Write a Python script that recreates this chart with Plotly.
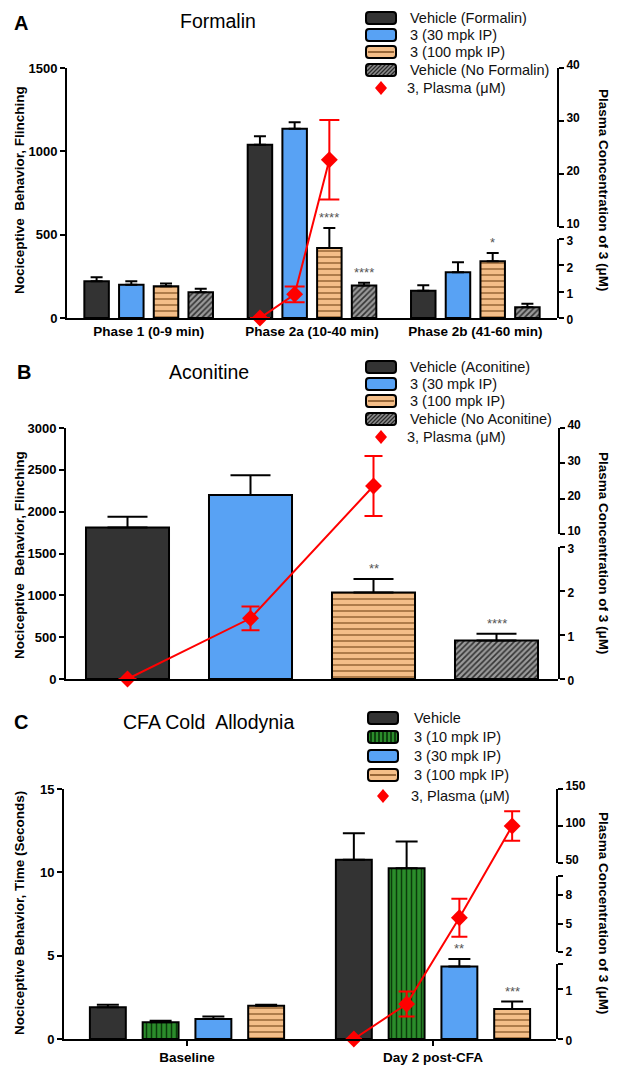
import plotly.graph_objects as go

# ------------------------------------------------------------------ data
# Panel A - Formalin
A_groups = ["Phase 1 (0-9 min)", "Phase 2a (10-40 min)", "Phase 2b (41-60 min)"]
A_names = ["Vehicle (Formalin)", "3 (30 mpk IP)", "3 (100 mpk IP)", "Vehicle (No Formalin)"]
A_vehicle = [220, 1040, 163]
A_vehicle_err = [25, 50, 33]
A_30 = [200, 1135, 275]
A_30_err = [20, 40, 60]
A_100 = [190, 420, 340]
A_100_err = [17, 120, 50]
A_nof = [155, 195, 65]
A_nof_err = [20, 17, 20]
A_sig_100 = ["", "****", "*"]
A_sig_nof = ["", "****", ""]
A_plasma = [0, 0.9, 22.7]          # at vehicle, 30, 100 mpk of Phase 2a
A_plasma_err = [0, 0.3, 7.5]

# Panel B - Aconitine
B_names = ["Vehicle (Aconitine)", "3 (30 mpk IP)", "3 (100 mpk IP)", "Vehicle (No Aconitine)"]
B_values = [1810, 2200, 1035, 460]
B_err = [130, 235, 160, 80]
B_sig = ["", "", "**", "****"]
B_plasma = [0, 1.38, 23.6]
B_plasma_err = [0, 0.27, 8.5]

# Panel C - CFA cold allodynia
C_groups = ["Baseline", "Day 2 post-CFA"]
C_names = ["Vehicle", "3 (10 mpk IP)", "3 (30 mpk IP)", "3 (100 mpk IP)"]
C_vehicle = [1.9, 10.75]
C_vehicle_err = [0.15, 1.6]
C_10 = [1.0, 10.25]
C_10_err = [0.1, 1.6]
C_30 = [1.2, 4.35]
C_30_err = [0.15, 0.45]
C_100 = [2.0, 1.8]
C_100_err = [0.05, 0.45]
C_sig_30 = ["", "**"]
C_sig_100 = ["", "***"]
C_plasma = [0, 0.7, 5.6, 100]
C_plasma_err = [0, 0.25, 2.0, 20]

PLASMA_NAME = "3, Plasma (\u03bcM)"

# ------------------------------------------------------------------ layout helpers
W, H = 619, 1072
FONT = "Liberation Sans"
RED = "#FF0000"


def X(p):
    return p / W


def Y(p):
    return 1 - p / H


STY = {
    "black": dict(color="#333333"),
    "blue": dict(color="#58A2F4"),
    "orange": dict(color="#F4BE88",
                   pattern=dict(shape="-", fgcolor="#8a5a2a", bgcolor="#F4BE88",
                                size=6, solidity=0.22, fillmode="replace")),
    "gray": dict(color="#9a9a9a",
                 pattern=dict(shape="/", fgcolor="#333333", bgcolor="#9a9a9a",
                              size=4, solidity=0.4, fillmode="replace")),
    "green": dict(color="#2b8c2b",
                  pattern=dict(shape="|", fgcolor="#0b3b0b", bgcolor="#2b8c2b",
                               size=5, solidity=0.3, fillmode="replace")),
}
SWATCH_FILL = {"black": "#333333", "blue": "#58A2F4", "orange": "#F4BE88",
               "gray": "#8c8c8c", "green": "#2b8c2b"}

fig = go.Figure()
layout = {}
shapes = []
annotations = []

TICKFONT = dict(family=FONT, size=13, color="black", weight="bold")
RTICKFONT = dict(family=FONT, size=12, color="black", weight="bold")
XTICKFONT = dict(family=FONT, size=13.5, color="black", weight="bold")


def seg_T(segs):
    """broken right axis: value -> paper y"""
    def T(v):
        for v0, v1, p0, p1 in segs:
            if v0 <= v <= v1:
                return Y(p0 + (v - v0) / (v1 - v0) * (p1 - p0))
        raise ValueError(v)
    return T


def make_panel(xname, ynames, xl, xr, ybot, ytop, xrange, yrange, ytick,
               segs, seg_ticks, xtickvals, xticktext, xticks):
    yl, ysegs, yh = ynames
    xk = "xaxis" if xname == "x" else "xaxis" + xname[1:]
    layout[xk] = dict(domain=[X(xl), X(xr)], anchor=yl, range=xrange,
                      showline=True, linewidth=2, linecolor="black",
                      showgrid=False, zeroline=False, automargin=False,
                      tickvals=xtickvals, ticktext=xticktext,
                      showticklabels=xticktext is not None,
                      ticks=xticks, ticklen=5, tickwidth=2, tickcolor="black",
                      tickfont=XTICKFONT, fixedrange=True)
    ylk = "yaxis" if yl == "y" else "yaxis" + yl[1:]
    layout[ylk] = dict(domain=[Y(ybot), Y(ytop)], anchor=xname, range=yrange,
                       showline=True, linewidth=2, linecolor="black",
                       showgrid=False, zeroline=False, automargin=False,
                       tickvals=ytick, ticks="outside", ticklen=5, tickwidth=2,
                       tickcolor="black", tickfont=TICKFONT, fixedrange=True)
    nseg = len(ysegs)
    for i, (ya, (v0, v1, p0, p1), (tv, tt)) in enumerate(zip(ysegs, segs, seg_ticks)):
        k = "yaxis" + ya[1:]
        shift = -3 if i == nseg - 1 else (2 if i == 0 else 0)
        layout[k] = dict(domain=[Y(p0), Y(p1)], anchor=xname, side="right",
                         range=[v0, v1], showline=True, linewidth=2, linecolor="black",
                         showgrid=False, zeroline=False, automargin=False,
                         tickvals=tv, ticktext=tt, ticks="outside", ticklen=5,
                         tickwidth=2, tickcolor="black", tickfont=RTICKFONT,
                         ticklabelshift=shift, fixedrange=True)
        fig.add_trace(go.Scatter(x=[xrange[0]], y=[v0], xaxis=xname, yaxis=ya,
                                 mode="markers", marker=dict(opacity=0),
                                 showlegend=False, hoverinfo="skip"))
    hk = "yaxis" + yh[1:]
    layout[hk] = dict(overlaying=yl, anchor=xname, range=[Y(ybot), Y(ytop)],
                      visible=False, fixedrange=True)


def add_bars(xname, yname, xs, vals, errs, style, width, capw):
    st = STY[style]
    marker = dict(color=st["color"], line=dict(color="black", width=2))
    if "pattern" in st:
        marker["pattern"] = st["pattern"]
    fig.add_trace(go.Bar(x=xs, y=vals, width=width, xaxis=xname, yaxis=yname,
                         marker=marker, showlegend=False,
                         error_y=dict(type="data", symmetric=False, array=errs,
                                      arrayminus=[0] * len(errs), color="black",
                                      thickness=2, width=capw)))


def add_sig(xref, yref, xs, vals, errs, labels):
    for x, v, e, t in zip(xs, vals, errs, labels):
        if t:
            annotations.append(dict(x=x, y=v + e, xref=xref, yref=yref, text=t,
                                    showarrow=False, yanchor="bottom", yshift=1,
                                    font=dict(family=FONT, size=13, color="#555555")))


def add_plasma(xname, yname, xs, vals, errs, T, capw):
    ys = [T(v) for v in vals]
    up = [T(v + e) - T(v) for v, e in zip(vals, errs)]
    dn = [T(v) - T(v - e) for v, e in zip(vals, errs)]
    fig.add_trace(go.Scatter(x=xs, y=ys, xaxis=xname, yaxis=yname, mode="lines+markers",
                             line=dict(color=RED, width=2),
                             marker=dict(symbol="diamond", size=13, color=RED),
                             error_y=dict(type="data", symmetric=False, array=up,
                                          arrayminus=dn, color=RED, thickness=2,
                                          width=capw),
                             showlegend=False, cliponaxis=False))


def text(px, py, s, size, bold=False, angle=0, xanchor="center", color="black"):
    annotations.append(dict(x=X(px), y=Y(py), xref="paper", yref="paper", text=s,
                            showarrow=False, xanchor=xanchor, yanchor="middle",
                            textangle=angle,
                            font=dict(family=FONT, size=size, color=color,
                                      weight="bold" if bold else "normal")))


def rrect_path(cx, cy, w, h, r):
    x0, x1, y0, y1 = cx - w / 2, cx + w / 2, cy - h / 2, cy + h / 2
    return (f"M{X(x0 + r)},{Y(y0)} L{X(x1 - r)},{Y(y0)} Q{X(x1)},{Y(y0)} {X(x1)},{Y(y0 + r)} "
            f"L{X(x1)},{Y(y1 - r)} Q{X(x1)},{Y(y1)} {X(x1 - r)},{Y(y1)} "
            f"L{X(x0 + r)},{Y(y1)} Q{X(x0)},{Y(y1)} {X(x0)},{Y(y1 - r)} "
            f"L{X(x0)},{Y(y0 + r)} Q{X(x0)},{Y(y0)} {X(x0 + r)},{Y(y0)} Z")


def line(xa, ya, xb, yb, color, w):
    shapes.append(dict(type="line", xref="paper", yref="paper", x0=X(xa), y0=Y(ya),
                       x1=X(xb), y1=Y(yb), line=dict(color=color, width=w)))


def swatch(cx, cy, style):
    w, h = 30, 12
    x0, x1, y0, y1 = cx - w / 2, cx + w / 2, cy - h / 2, cy + h / 2
    shapes.append(dict(type="path", xref="paper", yref="paper",
                       path=rrect_path(cx, cy, w, h, 3), fillcolor=SWATCH_FILL[style],
                       line=dict(width=0)))
    if style == "orange":
        line(x0 + 2, cy, x1 - 2, cy, "#7a4a1e", 1.5)
    elif style == "green":
        xx = x0 + 3
        while xx < x1 - 2:
            line(xx, y0 + 1, xx, y1 - 1, "#062806", 1.5)
            xx += 4
    elif style == "gray":
        k = -h
        while k < w:
            t0 = max(0, 1 - k)
            t1 = min(h, (w - 1) - k)
            if t1 > t0:
                line(x0 + k + t0, y1 - t0, x0 + k + t1, y1 - t1, "#2a2a2a", 1.2)
            k += 4
    shapes.append(dict(type="path", xref="paper", yref="paper",
                       path=rrect_path(cx, cy, w, h, 3), line=dict(color="black", width=2)))


def diamond(cx, cy):
    hw, hh = 6, 7
    shapes.append(dict(type="path", xref="paper", yref="paper",
                       path=f"M{X(cx)},{Y(cy - hh)} L{X(cx + hw)},{Y(cy)} L{X(cx)},{Y(cy + hh)} L{X(cx - hw)},{Y(cy)} Z",
                       fillcolor=RED, line=dict(width=0)))


def legend(rows, styles, names, sw_x, tx_x, size=14.5):
    for py, st, nm in zip(rows, styles, names):
        if st == "diamond":
            diamond(sw_x, py)
            text(tx_x - 3, py, nm, size, xanchor="left", color="#111111")
        else:
            swatch(sw_x, py, st)
            text(tx_x, py, nm, size, xanchor="left", color="#111111")


# ------------------------------------------------------------------ Panel A
A_segs = [(0, 3, 318, 239), (10, 40, 227, 68)]
A_T = seg_T(A_segs)
make_panel("x", ("y", ["y2", "y3"], "y4"), 67, 557, 318, 68,
           [-0.5, 2.5], [0, 1500], [0, 500, 1000, 1500], A_segs,
           [([0, 1, 2, 3], ["0", "1", "2", "3"]), ([10, 20, 30, 40], ["10", "20", "30", "40"])],
           [0, 1, 2], A_groups, "")
A_pitch, A_bw = 0.2125, 0.15
A_x = [[g + (j - 1.5) * A_pitch for g in range(len(A_groups))] for j in range(4)]
add_bars("x", "y", A_x[0], A_vehicle, A_vehicle_err, "black", A_bw, 6)
add_bars("x", "y", A_x[1], A_30, A_30_err, "blue", A_bw, 6)
add_bars("x", "y", A_x[2], A_100, A_100_err, "orange", A_bw, 6)
add_bars("x", "y", A_x[3], A_nof, A_nof_err, "gray", A_bw, 6)
add_sig("x", "y", A_x[2], A_100, A_100_err, A_sig_100)
add_sig("x", "y", A_x[3], A_nof, A_nof_err, A_sig_nof)
add_plasma("x", "y4", [A_x[j][1] for j in range(3)], A_plasma, A_plasma_err, A_T, 10)

text(21, 23, "A", 20, bold=True)
text(218, 21, "Formalin", 19.5)
legend([18, 35, 52, 70, 88], ["black", "blue", "orange", "gray", "diamond"],
       A_names + [PLASMA_NAME], 381, 408)
text(19, 190, "Nociceptive  Behavior, Flinching", 13.5, bold=True, angle=-90)
text(604, 190, "Plasma Concentration of 3 (\u03bcM)", 13.5, bold=True, angle=90)

# ------------------------------------------------------------------ Panel B
B_segs = [(0, 3, 679, 547), (10, 40, 534, 428)]
B_T = seg_T(B_segs)
make_panel("x2", ("y5", ["y6", "y7"], "y8"), 66, 558, 679, 428,
           [-0.5, 3.5], [0, 3000], [0, 500, 1000, 1500, 2000, 2500, 3000], B_segs,
           [([0, 1, 2, 3], ["0", "1", "2", "3"]), ([10, 20, 30, 40], ["10", "20", "30", "40"])],
           [0, 1, 2, 3], None, "")
B_bw = 0.675
B_styles = ["black", "blue", "orange", "gray"]
for i in range(4):
    add_bars("x2", "y5", [i], [B_values[i]], [B_err[i]], B_styles[i], B_bw, 20)
add_sig("x2", "y5", list(range(4)), B_values, B_err, B_sig)
add_plasma("x2", "y8", [0, 1, 2], B_plasma, B_plasma_err, B_T, 9)

text(24, 372, "B", 20, bold=True)
text(209, 372, "Aconitine", 19.5)
legend([367, 384, 401, 419, 437], ["black", "blue", "orange", "gray", "diamond"],
       B_names + [PLASMA_NAME], 381, 408)
text(19, 555, "Nociceptive  Behavior, Flinching", 13.5, bold=True, angle=-90)
text(604, 553, "Plasma Concentration of 3 (\u03bcM)", 13.5, bold=True, angle=90)

# ------------------------------------------------------------------ Panel C
C_segs = [(0, 1.5, 1039, 964), (2, 10, 952, 876), (50, 150, 863, 789)]
C_T = seg_T(C_segs)
make_panel("x3", ("y9", ["y10", "y11", "y12"], "y13"), 64, 556, 1039, 789,
           [-0.5, 1.5], [0, 15], [0, 5, 10, 15], C_segs,
           [([0, 1, 1.5], ["0", "1", ""]), ([2, 5, 8, 10], ["2", "5", "8", ""]),
            ([50, 100, 150], ["50", "100", "150"])],
           [0, 1], C_groups, "outside")
C_pitch, C_bw = 0.2145, 0.146
C_x = [[g + (j - 1.5) * C_pitch for g in range(len(C_groups))] for j in range(4)]
add_bars("x3", "y9", C_x[0], C_vehicle, C_vehicle_err, "black", C_bw, 11)
add_bars("x3", "y9", C_x[1], C_10, C_10_err, "green", C_bw, 11)
add_bars("x3", "y9", C_x[2], C_30, C_30_err, "blue", C_bw, 11)
add_bars("x3", "y9", C_x[3], C_100, C_100_err, "orange", C_bw, 11)
add_sig("x3", "y9", C_x[2], C_30, C_30_err, C_sig_30)
add_sig("x3", "y9", C_x[3], C_100, C_100_err, C_sig_100)
add_plasma("x3", "y13", [C_x[j][1] for j in range(4)], C_plasma, C_plasma_err, C_T, 8)

text(21, 722, "C", 20, bold=True)
text(208, 722, "CFA Cold  Allodynia", 19.5)
legend([718, 737, 756, 775, 796], ["black", "green", "blue", "orange", "diamond"],
       C_names + [PLASMA_NAME], 383, 412)
text(19, 913, "Nociceptive Behavior, Time (Seconds)", 13.5, bold=True, angle=-90)
text(604, 913, "Plasma Concentration of 3 (\u03bcM)", 13.5, bold=True, angle=90)

# ------------------------------------------------------------------ finish
fig.update_layout(width=W, height=H, autosize=False,
                  margin=dict(l=0, r=0, t=0, b=0, pad=0),
                  paper_bgcolor="white", plot_bgcolor="rgba(0,0,0,0)",
                  barmode="overlay", showlegend=False,
                  font=dict(family=FONT, color="black"),
                  shapes=shapes, annotations=annotations, **layout)

fig.write_html("out.html", config={"displayModeBar": False},
               post_script="document.body.style.margin='0';")
